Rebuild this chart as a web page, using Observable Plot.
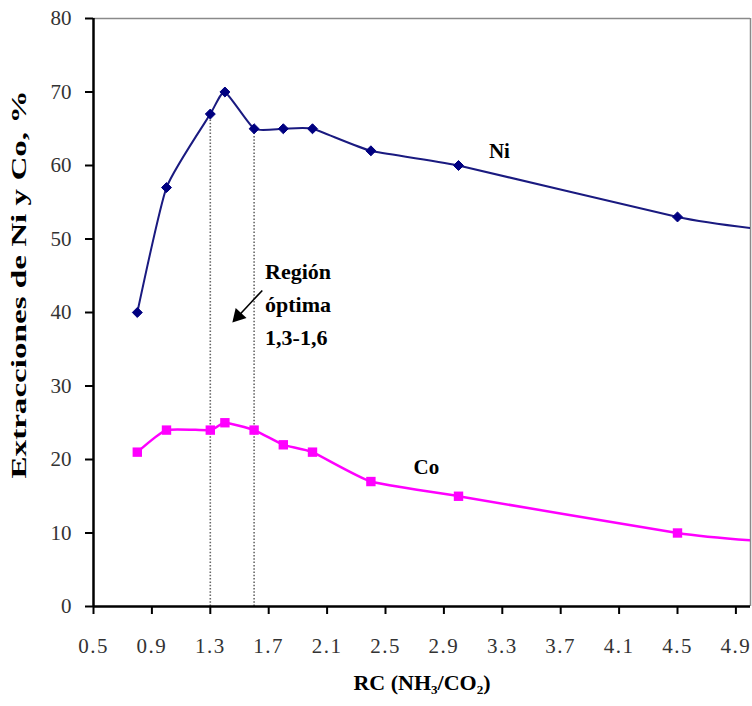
<!DOCTYPE html>
<html>
<head>
<meta charset="utf-8">
<script src="https://cdn.jsdelivr.net/npm/d3@7"></script>
<script src="https://cdn.jsdelivr.net/npm/@observablehq/plot@0.6"></script>
<style>
  html, body { margin: 0; padding: 0; background: #fff; }
  g[aria-label="x-axis tick label"] text { letter-spacing: 1.5px; }
</style>
</head>
<body>
<div id="chart"></div>
<script>
// ---- data ----
const rc = [0.8, 1.0, 1.3, 1.4, 1.6, 1.8, 2.0, 2.4, 3.0, 4.5, 5.0];
const niValues = [40, 57, 67, 70, 65, 65, 65, 62, 60, 53, 51.5];
const coValues = [21, 24, 24, 25, 24, 22, 21, 17, 15, 10, 9];
const measured = [true, true, true, true, true, true, true, true, true, true, false];

const xTicks = [0.5, 0.9, 1.3, 1.7, 2.1, 2.5, 2.9, 3.3, 3.7, 4.1, 4.5, 4.9];
const xTickLabels = ["0.5", "0.9", "1.3", "1.7", "2.1", "2.5", "2.9", "3.3", "3.7", "4.1", "4.5", "4.9"];
const yTicks = [0, 10, 20, 30, 40, 50, 60, 70, 80];

const regionBounds = [1.3, 1.6];
const regionText = "Región\nóptima\n1,3-1,6";
const seriesLabels = ["Ni", "Co"];
const xTitle = "RC (NH₃/CO₂)";
const yTitle = "Extracciones de Ni y Co, %";

// annotation anchors (data units)
const regionTextAt = {x: 1.675, y: 47.8};
const niLabelAt = {x: 3.28, y: 62.0};
const coLabelAt = {x: 2.78, y: 19.0};
const arrowTail = {x: 1.656, y: 43.0};
const arrowHeadAt = {x: 1.491, y: 39.5};

// ---- tables ----
const ni = rc.map((x, i) => ({x, y: niValues[i], m: measured[i]}));
const co = rc.map((x, i) => ({x, y: coValues[i], m: measured[i]}));
const region = regionBounds.map(x => ({x, top: niValues[rc.indexOf(x)]}));

const serif = "'Liberation Serif', 'Times New Roman', serif";

const chart = Plot.plot({
  width: 752,
  height: 706,
  marginLeft: 93,
  marginRight: 2,
  marginTop: 18,
  marginBottom: 100,
  style: {fontFamily: serif, fontSize: "20px", background: "#fff", color: "#000"},
  x: {domain: [0.5, 5.0]},
  y: {domain: [0, 80]},
  marks: [
    // frame (top/right, gray)
    Plot.ruleY([80], {stroke: "#8a8a8a", strokeWidth: 1.5}),
    Plot.ruleX([5.0], {stroke: "#8a8a8a", strokeWidth: 1.5}),
    // region dotted lines
    Plot.ruleX(region, {x: "x", y1: 0, y2: "top", stroke: "#666", strokeWidth: 1.6, strokeDasharray: "1.5,1.8"}),
    // axes
    Plot.axisX(xTicks, {tickSize: 8, tickPadding: 24, stroke: "#000", strokeWidth: 2, fill: "#333",
      fontSize: 21, fontFamily: serif, label: null, tickFormat: (d, i) => xTickLabels[i]}),
    Plot.axisY(yTicks, {tickSize: 8, tickPadding: 14, stroke: "#000", strokeWidth: 2, fill: "#333",
      fontSize: 21, fontFamily: serif, label: null, tickFormat: d => String(d)}),
    Plot.ruleX([0.5], {stroke: "#000", strokeWidth: 2.5}),
    Plot.ruleY([0], {stroke: "#000", strokeWidth: 2.5}),
    // series lines
    Plot.line(ni, {x: "x", y: "y", stroke: "#1a1a80", strokeWidth: 2, curve: "cardinal", tension: 0.5, clip: true}),
    Plot.line(co, {x: "x", y: "y", stroke: "#ff00ff", strokeWidth: 2.5, curve: "cardinal", tension: 0.5, clip: true}),
    // markers
    Plot.dot(ni.filter(d => d.m), {x: "x", y: "y", symbol: "diamond2", r: 4.5, fill: "#000080", stroke: "#000080", strokeWidth: 1}),
    Plot.dot(co.filter(d => d.m), {x: "x", y: "y", symbol: "square", r: 5.3, fill: "#ff00ff"}),
    // series labels
    Plot.text([seriesLabels[0]], {x: niLabelAt.x, y: niLabelAt.y, fontWeight: "bold", fontSize: 21, fontFamily: serif, fill: "#000"}),
    Plot.text([seriesLabels[1]], {x: coLabelAt.x, y: coLabelAt.y, fontWeight: "bold", fontSize: 21, fontFamily: serif, fill: "#000"}),
    // region annotation
    Plot.text([regionText], {x: regionTextAt.x, y: regionTextAt.y, textAnchor: "start", lineAnchor: "top",
      lineHeight: 1.5, fontWeight: "bold", fontSize: 22, fontFamily: serif, fill: "#000"}),
    Plot.link([arrowTail], {x1: "x", y1: "y", x2: () => arrowHeadAt.x, y2: () => arrowHeadAt.y, stroke: "#000", strokeWidth: 1.6}),
    Plot.dot([arrowHeadAt], {x: "x", y: "y", symbol: "triangle", r: 5.5, fill: "#000", rotate: 223}),
    // axis titles
    Plot.text([xTitle], {frameAnchor: "bottom", dy: 83, fontWeight: "bold", fontSize: 22, fontFamily: serif, fill: "#000"}),
    Plot.text([yTitle], {frameAnchor: "left", dx: -74, dy: 166, rotate: -90, textAnchor: "start", fontWeight: "bold", fontSize: 21, fontFamily: serif, fill: "#000"})
  ]
});

// stretch the y title along its length to match the reference proportions
chart.querySelectorAll("text").forEach(t => {
  if (t.textContent === yTitle) {
    t.setAttribute("textLength", "388");
    t.setAttribute("lengthAdjust", "spacingAndGlyphs");
  }
});

document.getElementById("chart").appendChild(chart);
</script>
</body>
</html>
